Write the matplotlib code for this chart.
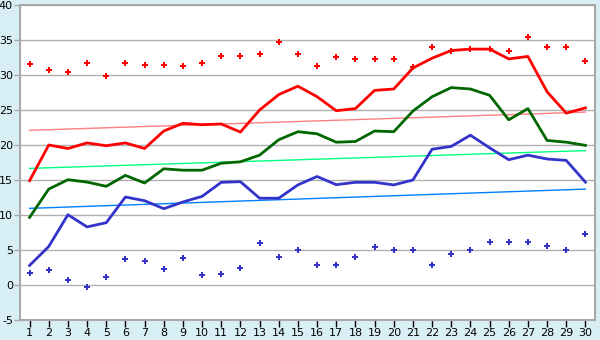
import matplotlib
matplotlib.use('agg')
import matplotlib.pyplot as plt
import numpy as np

# days of the month
days = np.arange(1, 31)

# daily max / mean / min lines
t_max = [14.9, 20.0, 19.5, 20.3, 19.9, 20.3, 19.5, 22.0, 23.1, 22.9,
         23.0, 21.85, 25.0, 27.2, 28.4, 26.9, 24.9, 25.2, 27.8, 28.0,
         31.0, 32.4, 33.5, 33.7, 33.7, 32.3, 32.65, 27.6, 24.55, 25.3]
t_mean = [9.66, 13.7, 15.04, 14.7, 14.1, 15.66, 14.57, 16.6, 16.4, 16.4,
          17.4, 17.6, 18.55, 20.75, 21.9, 21.6, 20.4, 20.5, 22.0, 21.9,
          24.85, 26.9, 28.2, 28.0, 27.1, 23.6, 25.2, 20.65, 20.4, 19.95]
t_min = [2.8, 5.5, 10.04, 8.3, 8.9, 12.57, 12.04, 10.9, 11.86, 12.66,
         14.67, 14.76, 12.4, 12.4, 14.3, 15.5, 14.33, 14.67, 14.67, 14.3,
         15.0, 19.4, 19.8, 21.4, 19.6, 17.9, 18.55, 18.0, 17.8, 14.7]

# record highs / lows (markers)
rec_max = [31.6, 30.7, 30.4, 31.7, 29.85, 31.7, 31.4, 31.4, 31.3, 31.7,
           32.7, 32.7, 33.0, 34.7, 33.0, 31.3, 32.6, 32.3, 32.3, 32.3,
           31.1, 34.0, 33.4, 33.7, 33.7, 33.4, 35.4, 34.0, 34.0, 32.0]
rec_min = [1.7, 2.14, 0.71, -0.3, 1.14, 3.71, 3.43, 2.29, 3.86, 1.43,
           1.57, 2.43, 6.0, 4.0, 5.0, 2.86, 2.86, 4.0, 5.43, 5.0,
           5.0, 2.86, 4.43, 5.0, 6.14, 6.14, 6.14, 5.57, 5.0, 7.29]

# trend lines: value at day 1 and day 30
trend_days = [1, 30]
trend_max = [22.1, 24.7]
trend_mean = [16.66, 19.2]
trend_min = [10.95, 13.7]

yticks = list(range(-5, 41, 5))

bg = '#d9eff6'
fig = plt.figure(figsize=(6, 3.4), dpi=100, facecolor=bg)
ax = fig.add_axes([20/600, 20/340, 575/600, 315/340])
ax.set_facecolor('white')

ax.plot(trend_days, trend_max, color='#ff8080', lw=1)
ax.plot(trend_days, trend_mean, color='#00ff80', lw=1)
ax.plot(trend_days, trend_min, color='#0080ff', lw=1)

ax.plot(days, t_max, color='#ff0000', lw=2)
ax.plot(days, t_mean, color='#006600', lw=2)
ax.plot(days, t_min, color='#3333cc', lw=2)

ax.plot(days, rec_max, 'P', color='#ff0000', ms=4, mew=0, ls='none')
ax.plot(days, rec_min, 'P', color='#3333cc', ms=4, mew=0, ls='none')

ax.set_xlim(0.5, 30.5)
ax.set_ylim(-5, 40)
ax.set_xticks(days)
ax.set_yticks(yticks)
# plain hyphen for the minus sign keeps "-5" inside the figure
ax.set_yticklabels([str(v) for v in yticks])
ax.yaxis.grid(True, color='#b0b0b0', lw=1)
ax.set_axisbelow(True)
for s in ax.spines.values():
    s.set_color('#a8a8a8')
    s.set_linewidth(1.5)
ax.tick_params(axis='x', direction='out', length=5, width=1, color='black',
               labelsize=8, pad=1)
ax.tick_params(axis='y', direction='out', length=4, width=1, color='#a8a8a8',
               labelsize=8, pad=1)

fig.savefig('out.png', dpi=100, facecolor=bg)
